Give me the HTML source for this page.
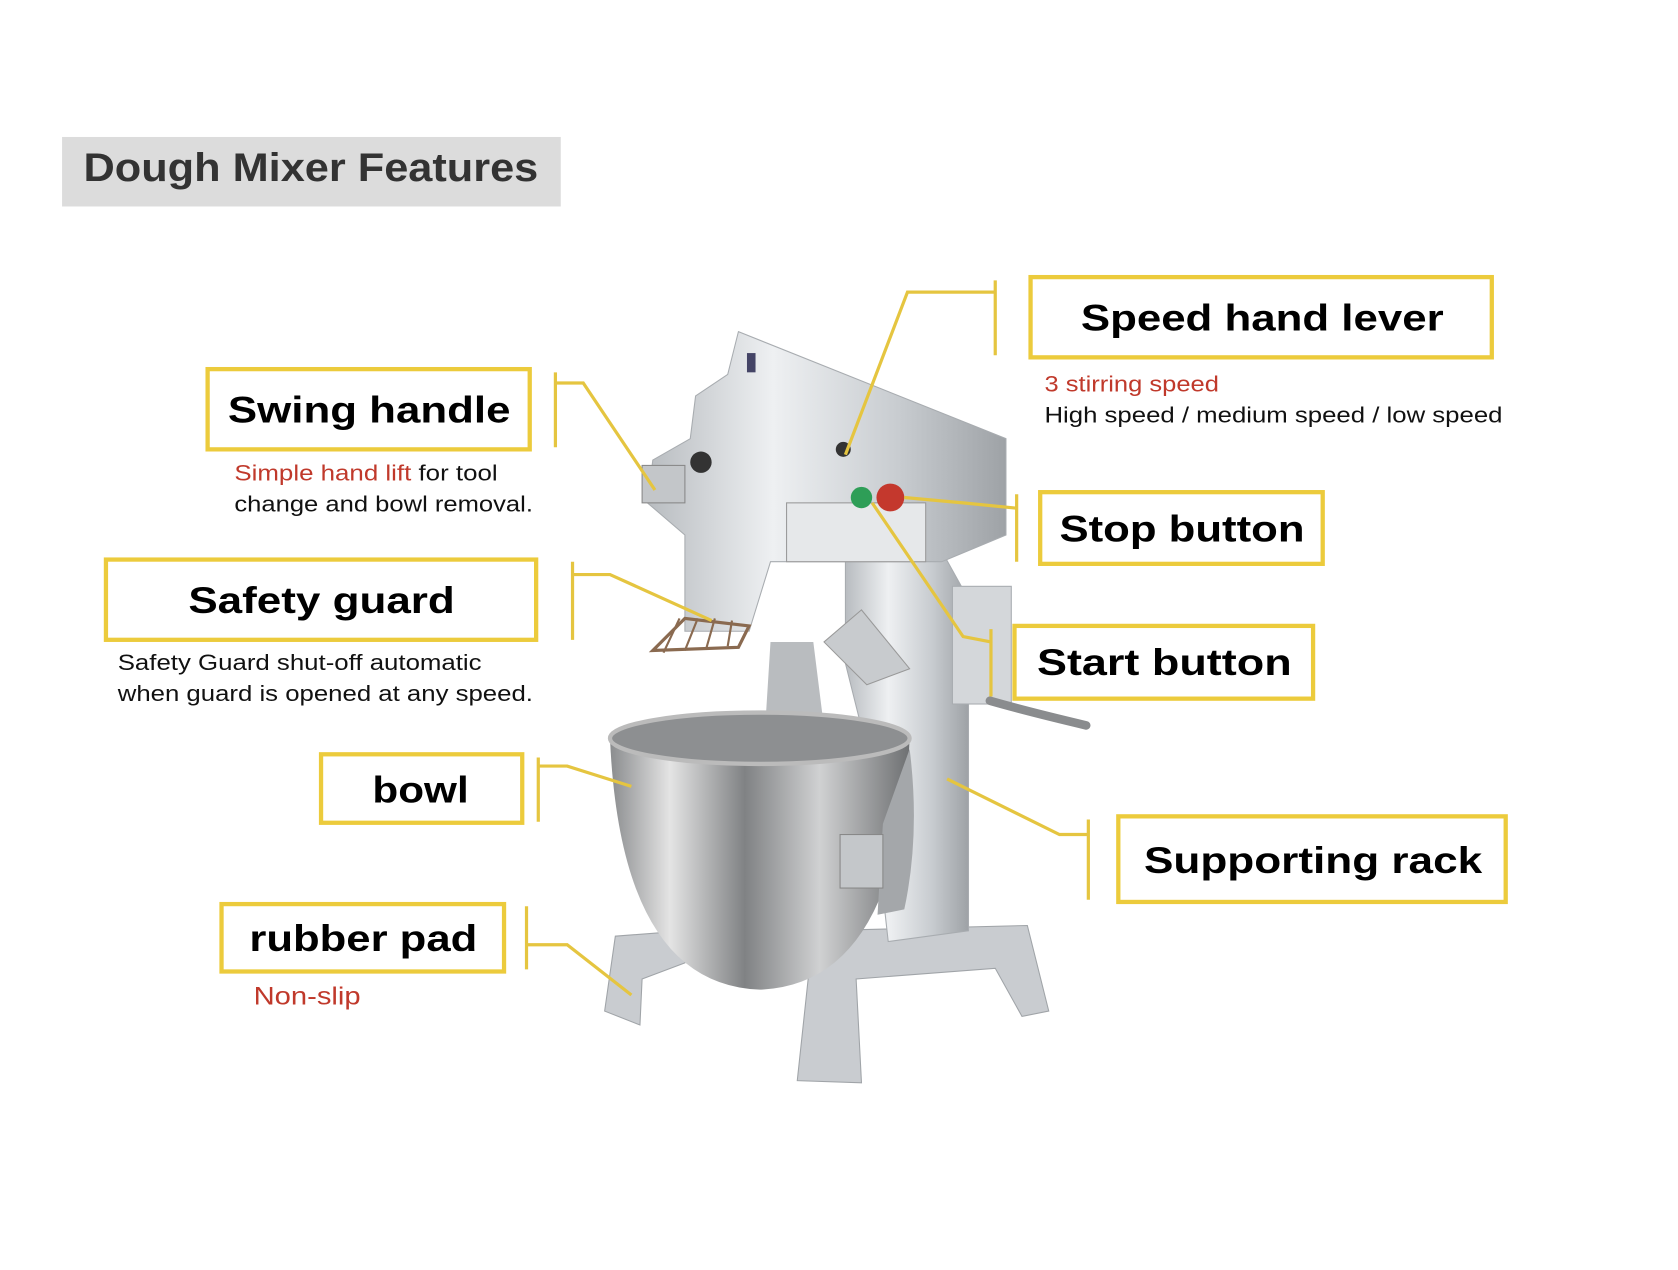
<!DOCTYPE html>
<html><head><meta charset="utf-8"><style>
html,body{margin:0;padding:0;background:#fff;}
svg{display:block;}
text{font-family:"Liberation Sans",Arial,sans-serif;}
</style></head><body>
<svg width="1678" height="1270" viewBox="0 0 1568 1187" preserveAspectRatio="none" xmlns="http://www.w3.org/2000/svg">
<defs>
<linearGradient id="metal" x1="0" x2="1" y1="0" y2="0">
<stop offset="0" stop-color="#b8bcc0"/><stop offset="0.35" stop-color="#eef0f2"/><stop offset="0.7" stop-color="#c8ccd0"/><stop offset="1" stop-color="#9ea2a6"/></linearGradient>
<linearGradient id="bowl" x1="0" x2="1" y1="0" y2="0">
<stop offset="0" stop-color="#8a8c8e"/><stop offset="0.2" stop-color="#e4e4e4"/><stop offset="0.45" stop-color="#808284"/><stop offset="0.7" stop-color="#d0d1d2"/><stop offset="1" stop-color="#6e7072"/></linearGradient>
</defs>
<rect width="1568" height="1187" fill="#fff"/>
<rect x="58" y="128" width="466" height="65" fill="#dcdcdc"/>
<text x="78" y="169" font-size="37" font-weight="bold" fill="#333" textLength="425" lengthAdjust="spacingAndGlyphs">Dough Mixer Features</text>

<!-- mixer -->
<g>
<path d="M745 1010 L760 870 L960 865 L980 945 L955 950 L930 905 L800 915 L805 1012 Z" fill="#c9ccd0" stroke="#a0a4a8"/>
<path d="M565 945 L575 875 L640 870 L640 900 L600 915 L598 958 Z" fill="#c9ccd0" stroke="#a0a4a8"/>
<path d="M790 520 L880 515 L905 560 L905 870 L830 880 L810 700 L790 620 Z" fill="url(#metal)" stroke="#a8acb0"/>
<rect x="890" y="548" width="55" height="110" fill="#d4d7da" stroke="#a8acb0"/>
<path d="M925 655 Q960 665 1015 678" stroke="#8a8c8e" stroke-width="8" fill="none" stroke-linecap="round"/>
<path d="M690 310 L940 410 L940 500 L880 525 L720 525 L700 590 L640 590 L640 500 L605 470 L610 430 L645 410 L650 370 L680 350 Z" fill="url(#metal)" stroke="#a8acb0"/>
<rect x="735" y="470" width="130" height="55" fill="#e6e8ea" stroke="#999"/>
<circle cx="805" cy="465" r="10" fill="#2e9e57"/>
<circle cx="832" cy="465" r="13" fill="#c4382d"/>
<rect x="600" y="435" width="40" height="35" fill="#c3c6c9" stroke="#888"/>
<circle cx="655" cy="432" r="10" fill="#333"/>
<circle cx="788" cy="420" r="7" fill="#333"/>
<rect x="698" y="330" width="8" height="18" fill="#446"/>
<path d="M610 608 L640 578 L700 585 L690 605 Z" fill="none" stroke="#8a6a50" stroke-width="3"/>
<path d="M620 610 L635 578 M640 608 L652 578 M660 606 L668 578 M680 604 L684 580" stroke="#8a6a50" stroke-width="2"/>
<path d="M770 600 L805 570 L850 625 L810 640 Z" fill="#c8cbce" stroke="#999"/>
<path d="M720 600 L760 600 L770 680 L715 680 Z" fill="#b9bcbf"/>
<path d="M570 690 Q580 920 710 925 Q840 920 850 690 Z" fill="url(#bowl)"/>
<ellipse cx="710" cy="690" rx="140" ry="24" fill="#8d8f91" stroke="#bbb" stroke-width="4"/>
<path d="M850 700 Q860 780 845 850 L820 855 L825 770 Z" fill="#a4a7aa"/>
<rect x="785" y="780" width="40" height="50" fill="#c4c7ca" stroke="#888"/>
</g>

<g fill="none" stroke="#eccb3c" stroke-width="4">
<rect x="194" y="345" width="301" height="75"/>
<rect x="99" y="523" width="402" height="75"/>
<rect x="300" y="705" width="188" height="64"/>
<rect x="207" y="845" width="264" height="63"/>
<rect x="963" y="259" width="431" height="75"/>
<rect x="972" y="460" width="264" height="67"/>
<rect x="948" y="585" width="279" height="68"/>
<rect x="1045" y="763" width="362" height="80"/>
</g>
<g fill="none" stroke="#e5c540" stroke-width="3">
<path d="M519 348 V418 M519 358 H545 L612 458"/>
<path d="M535 525 V598 M535 537 H570 L665 580"/>
<path d="M503 708 V768 M503 716 H530 L590 735"/>
<path d="M492 847 V906 M492 883 H530 L590 930"/>
<path d="M930 262 V332 M930 273 H848 L790 425"/>
<path d="M950 462 V525 M950 475 L900 470 L845 465"/>
<path d="M926 588 V651 M926 600 L900 595 L815 470"/>
<path d="M1017 766 V841 M1017 780 H990 L885 728"/>
</g>

<g font-weight="bold" font-size="35" fill="#000" lengthAdjust="spacingAndGlyphs">
<text x="213" y="395" textLength="264" lengthAdjust="spacingAndGlyphs">Swing handle</text>
<text x="176" y="573" textLength="249" lengthAdjust="spacingAndGlyphs">Safety guard</text>
<text x="348" y="750" textLength="90" lengthAdjust="spacingAndGlyphs">bowl</text>
<text x="233" y="889" textLength="213" lengthAdjust="spacingAndGlyphs">rubber pad</text>
<text x="1010" y="309" textLength="339" lengthAdjust="spacingAndGlyphs">Speed hand lever</text>
<text x="990" y="506" textLength="229" lengthAdjust="spacingAndGlyphs">Stop button</text>
<text x="969" y="631" textLength="238" lengthAdjust="spacingAndGlyphs">Start button</text>
<text x="1069" y="816" textLength="316" lengthAdjust="spacingAndGlyphs">Supporting rack</text>
</g>
<g font-size="21" fill="#111">
<text x="219" y="449" textLength="246" lengthAdjust="spacingAndGlyphs"><tspan fill="#c0392b">Simple hand lift</tspan> for tool</text>
<text x="219" y="478" textLength="279" lengthAdjust="spacingAndGlyphs">change and bowl removal.</text>
<text x="110" y="626" textLength="340" lengthAdjust="spacingAndGlyphs">Safety Guard shut-off automatic</text>
<text x="110" y="655" textLength="388" lengthAdjust="spacingAndGlyphs">when guard is opened at any speed.</text>
<text x="237" y="939" font-size="23" fill="#c0392b" textLength="100" lengthAdjust="spacingAndGlyphs">Non-slip</text>
<text x="976" y="366" fill="#c0392b" textLength="163" lengthAdjust="spacingAndGlyphs">3 stirring speed</text>
<text x="976" y="395" textLength="428" lengthAdjust="spacingAndGlyphs">High speed / medium speed / low speed</text>
</g>
</svg>
</body></html>
